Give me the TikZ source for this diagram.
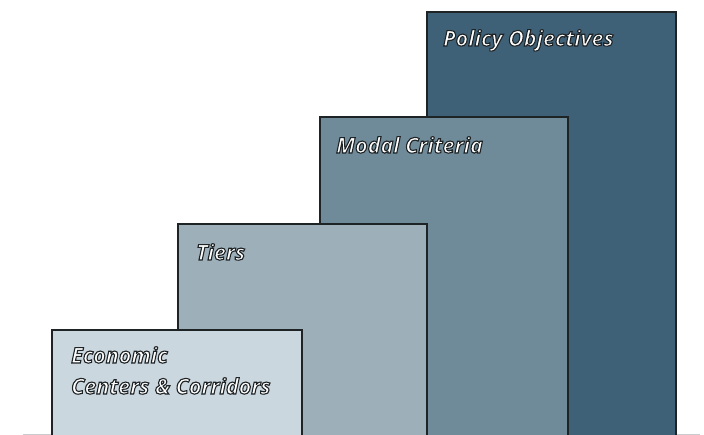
\documentclass[tikz,border=0pt]{standalone}
\usepackage{fontspec}
\setmainfont{Open Sans}
\begin{document}
\definecolor{tierA}{HTML}{CBD7DE}
\definecolor{tierB}{HTML}{9DB0B9}
\definecolor{tierC}{HTML}{6F8A98}
\definecolor{tierD}{HTML}{3F6177}
\definecolor{edge}{HTML}{1E2326}
\definecolor{rule}{HTML}{C8CCCF}
% white lettering with a dark stroked outline (text render mode 2)
\newcommand\outlined[1]{{\color{white}%
  \special{pdf:code 2 Tr 1.1 w 0.118 0.137 0.149 RG}#1%
  \special{pdf:code 0 Tr}}}
\begin{tikzpicture}[x=1pt,y=-1pt,
  level/.style={draw=edge,line width=1.4pt},
  caption/.style={anchor=base west,inner sep=0pt,
    font=\fontsize{21.5}{26}\selectfont\bfseries\itshape}]
\useasboundingbox (0,0) rectangle (704,435);
\fill[white] (0,0) rectangle (704,435);
% ground line
\draw[rule,line width=1pt] (23,434) -- (700,434);
% four stacked levels, back to front
\draw[level,fill=tierD] (427,12) rectangle (676,436);
\draw[level,fill=tierC] (320,117) rectangle (568,436);
\draw[level,fill=tierB] (178,224) rectangle (427,436);
\draw[level,fill=tierA] (52,330) rectangle (302,436);
% captions
\node[caption] (policy) at (443,46) {\outlined{Policy Objectives}};
\node[caption] (modal) at (336,153) {\outlined{Modal Criteria}};
\node[caption] (tiers) at (196,260) {\outlined{Tiers}};
\node[caption] (econ) at (71,363) {\outlined{Economic}};
\node[caption] (corridors) at (71,394) {\outlined{Centers \& Corridors}};
\end{tikzpicture}
\end{document}
